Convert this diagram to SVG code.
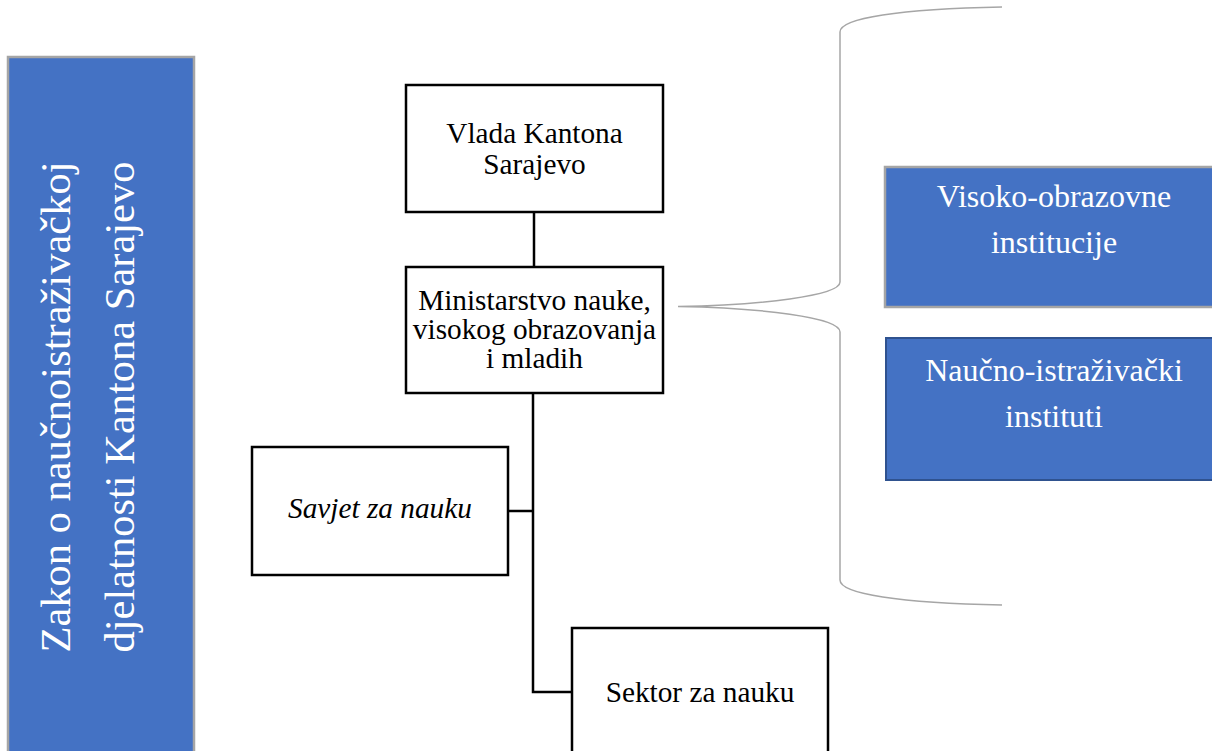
<svg xmlns="http://www.w3.org/2000/svg" width="1212" height="751" viewBox="0 0 1212 751">
<style>
.bx{fill:#ffffff;stroke:#000000;stroke-width:2.5}
.bl{fill:#4472C4;stroke:#a5a5a5;stroke-width:2.5}
.bl2{fill:#4472C4;stroke:#2F528F;stroke-width:2}
.t{font-family:"Liberation Serif","Times New Roman",serif;font-size:29.3px;fill:#000000;text-anchor:middle}
.tw{font-family:"Liberation Serif","Times New Roman",serif;font-size:32px;fill:#ffffff;text-anchor:middle}
.tl{font-family:"Liberation Serif","Times New Roman",serif;font-size:42.5px;fill:#ffffff;text-anchor:middle}
.ln{fill:none;stroke:#000000;stroke-width:2.5}
.br{fill:none;stroke:#a6a6a6;stroke-width:1.5}
</style>
<rect width="1212" height="751" fill="#ffffff"/>
<g id="zakon">
<rect class="bl" x="8" y="57" width="186" height="710"/>
<text class="tl" transform="translate(70,407) rotate(-90)">Zakon o naučnoistraživačkoj</text>
<text class="tl" transform="translate(134,407) rotate(-90)">djelatnosti Kantona Sarajevo</text>
</g>
<g id="connectors">
<line class="ln" x1="534" y1="212" x2="534" y2="267"/>
<polyline class="ln" points="533,393 533,692 572,692"/>
<line class="ln" x1="508" y1="511" x2="533" y2="511"/>
</g>
<g id="vlada">
<rect class="bx" x="406" y="85" width="257" height="127"/>
<text class="t" x="534.5" y="143">Vlada Kantona</text>
<text class="t" x="534.5" y="174">Sarajevo</text>
</g>
<g id="ministarstvo">
<rect class="bx" x="406" y="267" width="257" height="126"/>
<text class="t" x="534.5" y="310">Ministarstvo nauke,</text>
<text class="t" x="534.5" y="339">visokog obrazovanja</text>
<text class="t" x="534.5" y="368">i mladih</text>
</g>
<g id="savjet">
<rect class="bx" x="252" y="447" width="256" height="128"/>
<text class="t" x="380" y="518" font-style="italic">Savjet za nauku</text>
</g>
<g id="sektor">
<rect class="bx" x="572" y="628" width="256" height="140"/>
<text class="t" x="700" y="702">Sektor za nauku</text>
</g>
<g id="brace">
<path class="br" d="M1002,7 C900,9 840,18 840,32 L840,282 C840,296 760,305 678,306.5 C760,308 840,317 840,332 L840,580 C840,594 900,603 1002,605"/>
</g>
<g id="visoko">
<rect class="bl" x="885" y="167" width="340" height="140"/>
<text class="tw" x="1054" y="207">Visoko-obrazovne</text>
<text class="tw" x="1054" y="253">institucije</text>
</g>
<g id="naucno">
<rect class="bl2" x="886" y="338" width="340" height="142"/>
<text class="tw" x="1054" y="381">Naučno-istraživački</text>
<text class="tw" x="1054" y="427">instituti</text>
</g>
</svg>
